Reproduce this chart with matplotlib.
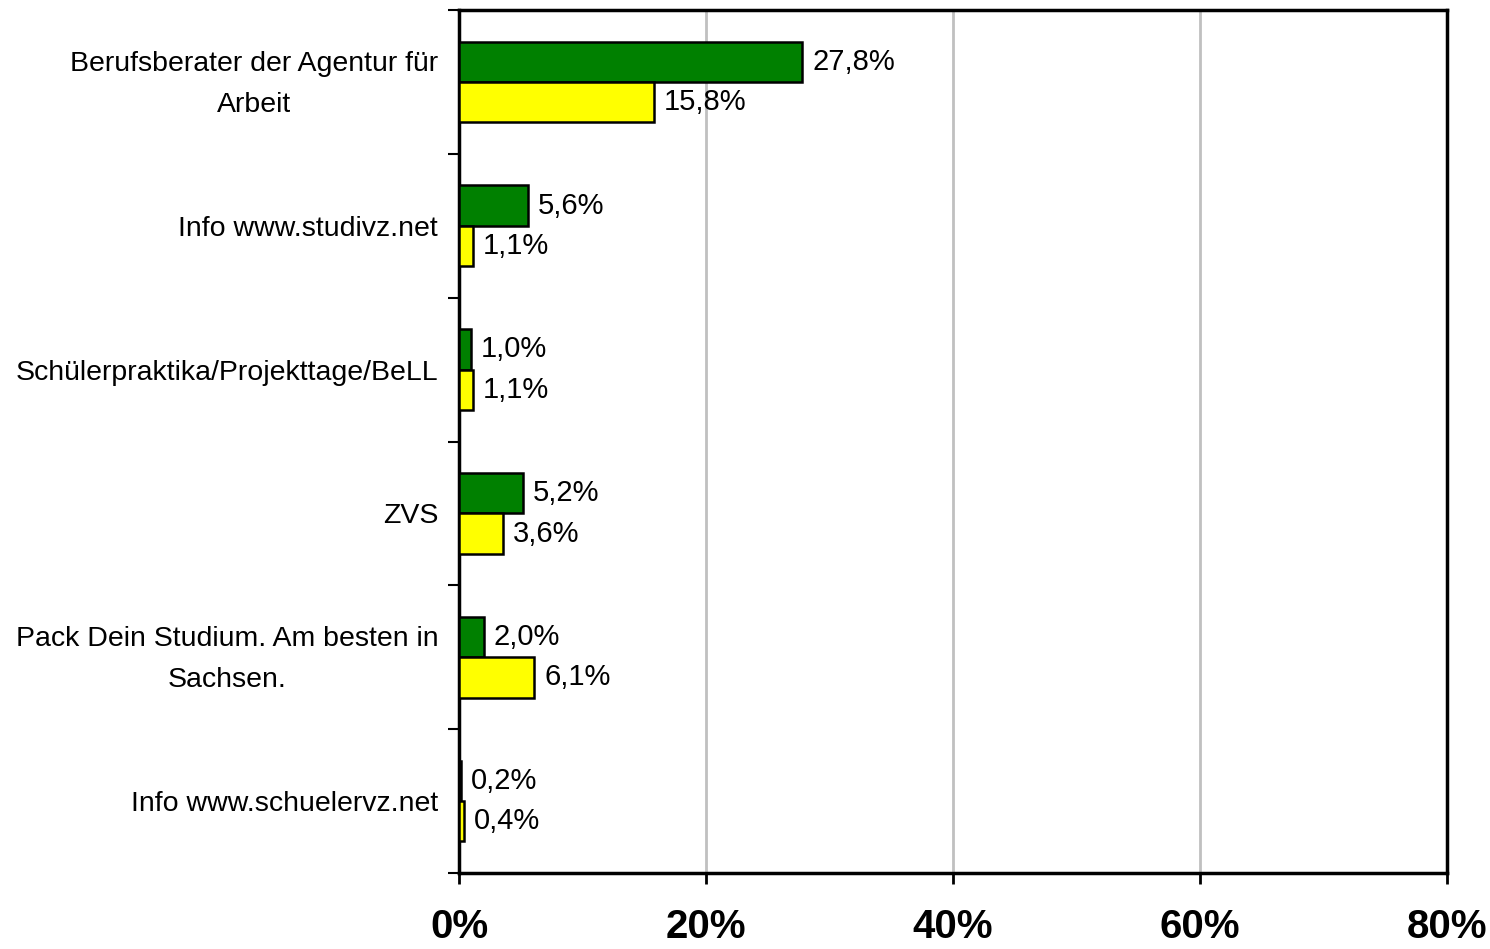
import numpy as np
import matplotlib.pyplot as plt
from matplotlib.ticker import FuncFormatter
from matplotlib.transforms import ScaledTranslation

plt.rcParams['font.family'] = ['Liberation Sans', 'DejaVu Sans']

categories = [
    'Berufsberater der Agentur für\nArbeit',
    'Info www.studivz.net',
    'Schülerpraktika/Projekttage/BeLL',
    'ZVS',
    'Pack Dein Studium. Am besten in\nSachsen.',
    'Info www.schuelervz.net',
]
green_vals = [27.8, 5.6, 1.0, 5.2, 2.0, 0.2]
yellow_vals = [15.8, 1.1, 1.1, 3.6, 6.1, 0.4]
x_ticks = [0, 20, 40, 60, 80]

fig = plt.figure(figsize=(14.9, 9.49), dpi=100)
ax = fig.add_axes([459 / 1490, 1 - 873 / 949, (1447 - 459) / 1490, (873 - 10) / 949])

n = len(categories)
pos = np.arange(n)
h = 0.28

ax.barh(pos - h / 2, green_vals, height=h, color='#008000', edgecolor='black', linewidth=1.8, zorder=3)
ax.barh(pos + h / 2, yellow_vals, height=h, color='#ffff00', edgecolor='black', linewidth=1.8, zorder=3)

for i in range(n):
    for val, off in ((green_vals[i], -h / 2), (yellow_vals[i], h / 2)):
        ax.annotate(f'{val:.1f}%'.replace('.', ','), (val, pos[i] + off),
                    xytext=(7, 0), textcoords='offset points',
                    ha='left', va='center', fontsize=21)

ax.set_xlim(0, 80)
ax.set_ylim(n - 0.5, -0.5)
ax.set_xticks(x_ticks)
ax.xaxis.set_major_formatter(FuncFormatter(lambda v, p: f'{v:.0f}%'))
ax.tick_params(axis='x', labelsize=29, length=8, width=2, pad=17, direction='out')
for lbl in ax.get_xticklabels():
    lbl.set_fontweight('bold')

# category labels in the middle of each band, ticks on band edges
ax.set_yticks(pos)
ax.set_yticklabels(categories, fontsize=20.5, multialignment='center', linespacing=1.75)
ax.tick_params(axis='y', length=0, pad=15)
ax.set_yticks(np.arange(n + 1) - 0.5, minor=True)
ax.tick_params(axis='y', which='minor', length=8, width=1.5)

# two-line labels sit a bit higher in the original
for lbl in ax.get_yticklabels():
    if '\n' in lbl.get_text():
        lbl.set_transform(lbl.get_transform() + ScaledTranslation(0, 0.08, fig.dpi_scale_trans))

ax.grid(axis='x', color='#c0c0c0', linewidth=2, zorder=0)
for s in ax.spines.values():
    s.set_linewidth(2.5)

fig.savefig('out.png', dpi=100)
